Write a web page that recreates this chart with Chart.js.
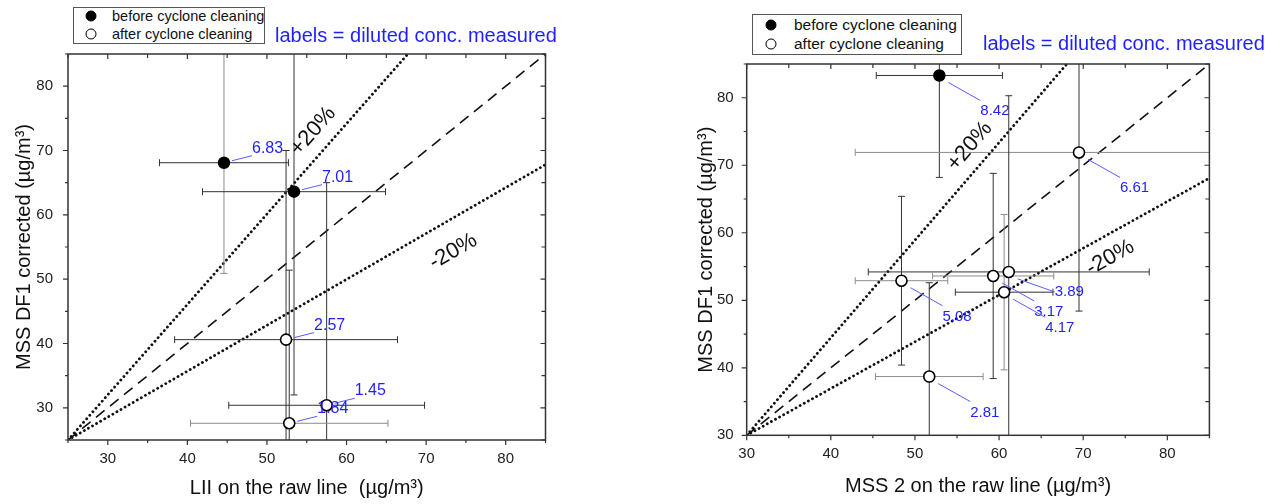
<!DOCTYPE html>
<html>
<head>
<meta charset="utf-8">
<script src="https://cdn.jsdelivr.net/npm/chart.js@4.4.1/dist/chart.umd.min.js"></script>
<style>
  body { margin: 0; background: #fff; font-family: Arial, "Liberation Sans", sans-serif; }
  #wrap { position: relative; width: 1268px; height: 504px; overflow: hidden; }
  #wrap canvas { position: absolute; top: 0; }
  .legend { position: absolute; border: 1px solid #555; background: #fff; box-sizing: border-box; }
  .row { position: absolute; white-space: nowrap; color: #111; line-height: 1; transform: translateY(-50%); }
  .dot { position: absolute; width: 11px; height: 11px; border-radius: 50%; box-sizing: border-box;
         border: 1.6px solid #000; transform: translate(-50%, -50%); }
  .note { position: absolute; color: #1f1fff; font-size: 20px; white-space: nowrap; line-height: 1;
          transform: translateY(-50%); }
</style>
</head>
<body>
<div id="wrap">
  <canvas id="liiChart" width="634" height="504" style="left:0"></canvas>
  <canvas id="mssChart" width="634" height="504" style="left:634px"></canvas>

  <div class="legend" style="left:73px;top:7px;width:192px;height:37px"></div>
  <div class="dot" style="left:91px;top:16px;background:#000"></div>
  <div class="row" style="left:112px;top:16px;font-size:14.5px">before cyclone cleaning</div>
  <div class="dot" style="left:91px;top:34px;background:#fff"></div>
  <div class="row" style="left:112px;top:34px;font-size:14.5px">after cyclone cleaning</div>
  <div class="note" style="left:275px;top:35px">labels = diluted conc. measured</div>

  <div class="legend" style="left:752px;top:14px;width:210px;height:41px"></div>
  <div class="dot" style="left:771px;top:25px;background:#000"></div>
  <div class="row" style="left:794px;top:25px;font-size:15.5px">before cyclone cleaning</div>
  <div class="dot" style="left:771px;top:44px;background:#fff"></div>
  <div class="row" style="left:794px;top:44px;font-size:15.5px">after cyclone cleaning</div>
  <div class="note" style="left:983px;top:43px">labels = diluted conc. measured</div>
</div>

<script>
// ---- left panel: LII vs MSS DF1 ----
const liiBeforeX = [44.6, 53.4];
const liiBeforeY = [68.1, 63.6];
const liiBeforeXErr = [8.1, 11.5];
const liiBeforeYErr = [17.2, 31.6];
const liiBeforeLabels = ["6.83", "7.01"];

const liiAfterX = [52.4, 57.5, 52.8];
const liiAfterY = [40.6, 30.4, 27.6];
const liiAfterXErr = [14.0, 12.3, 12.4];
const liiAfterYErr = [29.4, 34.6, 23.8];
const liiAfterLabels = ["2.57", "1.45", "1.84"];

const liiTicks = [30, 40, 50, 60, 70, 80];
const liiOneX = [25, 85], liiOneY = [25, 85];
const liiPlusX = [25, 67.7], liiPlusY = [25, 85];
const liiMinusX = [25, 85], liiMinusY = [25, 67.8];

// ---- right panel: MSS 2 vs MSS DF1 ----
const mssBeforeX = [52.9];
const mssBeforeY = [83.3];
const mssBeforeXErr = [7.5];
const mssBeforeYErr = [15.1];
const mssBeforeLabels = ["8.42"];

const mssAfterX = [69.5, 48.4, 61.15, 59.3, 60.6, 51.7];
const mssAfterY = [71.9, 52.9, 54.2, 53.6, 51.2, 38.7];
const mssAfterXErr = [26.6, 5.5, 16.7, 7.2, 5.8, 6.4];
const mssAfterYErr = [23.5, 12.5, 26.1, 15.2, 11.5, 13.9];
const mssAfterLabels = ["6.61", "5.08", "3.89", "3.17", "4.17", "2.81"];

const mssTicks = [30, 40, 50, 60, 70, 80];
const mssOneX = [30, 85], mssOneY = [30, 85];
const mssPlusX = [30, 68.05], mssPlusY = [30, 85];
const mssMinusX = [30, 85], mssMinusY = [30, 68.1];

// bar colours (dark / grey), horizontal and vertical
const DK = "#333", GR = "#8c8c8c";

Chart.defaults.font.family = 'Arial, "Liberation Sans", sans-serif';

function pts(xs, ys) {
  return xs.map((x, i) => ({ x: x, y: ys[i] }));
}

function drawErrorBars(chart) {
  const ctx = chart.ctx, a = chart.chartArea;
  const xs = chart.scales.x, ys = chart.scales.y;
  ctx.save();
  ctx.beginPath();
  ctx.rect(a.left, a.top, a.right - a.left, a.bottom - a.top);
  ctx.clip();
  ctx.lineWidth = 1;
  chart.data.datasets.forEach((ds) => {
    if (!ds.series) return;
    const s = ds.series;
    ds.data.forEach((p, i) => {
      const cx = xs.getPixelForValue(p.x), cy = ys.getPixelForValue(p.y);
      const x0 = xs.getPixelForValue(p.x - s.xErr[i]), x1 = xs.getPixelForValue(p.x + s.xErr[i]);
      const y0 = ys.getPixelForValue(p.y - s.yErr[i]), y1 = ys.getPixelForValue(p.y + s.yErr[i]);
      ctx.strokeStyle = s.hCol[i];
      ctx.beginPath();
      ctx.moveTo(x0, cy); ctx.lineTo(x1, cy);
      ctx.moveTo(x0, cy - 3.5); ctx.lineTo(x0, cy + 3.5);
      ctx.moveTo(x1, cy - 3.5); ctx.lineTo(x1, cy + 3.5);
      ctx.stroke();
      ctx.strokeStyle = s.vCol[i];
      ctx.beginPath();
      ctx.moveTo(cx, y0); ctx.lineTo(cx, y1);
      ctx.moveTo(cx - 3.5, y0); ctx.lineTo(cx + 3.5, y0);
      ctx.moveTo(cx - 3.5, y1); ctx.lineTo(cx + 3.5, y1);
      ctx.stroke();
    });
  });
  ctx.restore();
}

function drawLabels(chart, opts) {
  const ctx = chart.ctx;
  ctx.save();
  ctx.font = opts.labelFont + ' Arial, "Liberation Sans", sans-serif';
  ctx.textBaseline = "alphabetic";
  ctx.textAlign = "left";
  chart.data.datasets.forEach((ds, di) => {
    if (!ds.series) return;
    const meta = chart.getDatasetMeta(di);
    ds.series.labels.forEach((txt, i) => {
      const el = meta.data[i];
      const o = (opts.special[txt]) || opts.offset;
      ctx.strokeStyle = "#5a5aff";
      ctx.lineWidth = 1;
      ctx.beginPath();
      ctx.moveTo(el.x + o[2], el.y + o[3]);
      ctx.lineTo(el.x + o[4], el.y + o[5]);
      ctx.stroke();
      ctx.fillStyle = "#1f1fff";
      ctx.fillText(txt, el.x + o[0], el.y + o[1]);
    });
  });
  ctx.restore();
}

function drawTags(chart, tags) {
  const ctx = chart.ctx, xs = chart.scales.x, ys = chart.scales.y;
  ctx.save();
  ctx.font = '22px Arial, "Liberation Sans", sans-serif';
  ctx.fillStyle = "#111";
  ctx.textAlign = "center";
  ctx.textBaseline = "middle";
  tags.forEach((t) => {
    const ang = Math.atan2(
      ys.getPixelForValue(t.lineY[1]) - ys.getPixelForValue(t.lineY[0]),
      xs.getPixelForValue(t.lineX[1]) - xs.getPixelForValue(t.lineX[0])
    );
    ctx.save();
    ctx.translate(xs.getPixelForValue(t.x), ys.getPixelForValue(t.y));
    ctx.rotate(ang);
    ctx.fillText(t.text, 0, 0);
    ctx.restore();
  });
  ctx.restore();
}

function drawFrame(chart) {
  const ctx = chart.ctx, a = chart.chartArea;
  const xs = chart.scales.x, ys = chart.scales.y;
  ctx.save();
  ctx.strokeStyle = "#333";
  ctx.lineWidth = 1.5;
  ctx.strokeRect(a.left, a.top, a.right - a.left, a.bottom - a.top);
  ctx.lineWidth = 1.2;
  ctx.beginPath();
  for (let v = xs.min; v <= xs.max + 0.01; v += 5) {
    const p = xs.getPixelForValue(v), big = v % 10 === 0;
    ctx.moveTo(p, a.bottom); ctx.lineTo(p, a.bottom + (big ? 5 : 3));
    ctx.moveTo(p, a.top); ctx.lineTo(p, a.top + (big ? 5 : 4));
  }
  for (let v = ys.min; v <= ys.max + 0.01; v += 5) {
    const p = ys.getPixelForValue(v), big = v % 10 === 0;
    ctx.moveTo(a.left, p); ctx.lineTo(a.left - (big ? 5 : 3), p);
    ctx.moveTo(a.right, p); ctx.lineTo(a.right - (big ? 5 : 4), p);
  }
  ctx.stroke();
  ctx.restore();
}

const panelPlugin = {
  id: "panel",
  beforeDatasetsDraw(chart) { chart.$barsDone = false; },
  beforeDatasetDraw(chart, args) {
    if (chart.$barsDone || !chart.data.datasets[args.index].series) return;
    drawErrorBars(chart);
    chart.$barsDone = true;
  },
  afterDatasetsDraw(chart, args, opts) {
    drawTags(chart, opts.tags);
    drawLabels(chart, opts);
  },
  afterDraw(chart) { drawFrame(chart); }
};

function refLine(xs, ys, dotted) {
  return {
    type: "line",
    data: pts(xs, ys),
    borderColor: "#111",
    borderWidth: dotted ? 2.8 : 1.6,
    borderDash: dotted ? [0.1, 4.6] : [11, 7],
    borderCapStyle: dotted ? "round" : "butt",
    pointRadius: 0,
    fill: false,
    order: 2
  };
}

function buildChart(id, o) {
  return new Chart(document.getElementById(id), {
    type: "scatter",
    data: {
      datasets: [
        {
          label: "before cyclone cleaning",
          data: pts(o.bX, o.bY),
          series: o.bSeries,
          pointRadius: 5.5,
          pointBackgroundColor: "#000",
          pointBorderColor: "#000",
          pointBorderWidth: 1.5,
          order: 1
        },
        {
          label: "after cyclone cleaning",
          data: pts(o.aX, o.aY),
          series: o.aSeries,
          pointRadius: 5.5,
          pointBackgroundColor: "#fff",
          pointBorderColor: "#000",
          pointBorderWidth: 1.6,
          order: 1
        },
        refLine(o.one[0], o.one[1], false),
        refLine(o.plus[0], o.plus[1], true),
        refLine(o.minus[0], o.minus[1], true)
      ]
    },
    options: {
      responsive: false,
      animation: false,
      events: [],
      layout: { padding: { left: 0, top: o.top, right: o.right, bottom: 0 } },
      plugins: {
        legend: { display: false },
        tooltip: { enabled: false },
        panel: { tags: o.tags, labelFont: o.labelFont, offset: o.offset, special: o.special }
      },
      scales: {
        x: {
          type: "linear",
          min: o.xMin, max: 85,
          afterBuildTicks: (s) => { s.ticks = o.ticks.map((v) => ({ value: v })); },
          afterFit: (s) => { s.height = o.xAxisH; },
          grid: { display: false, drawTicks: false, tickLength: 0 },
          border: { display: false },
          ticks: { font: { size: 15 }, color: "#222", padding: 10 },
          title: { display: true, text: o.xTitle, font: { size: 20 }, color: "#111",
                   padding: { top: 0, bottom: o.xTitlePad } }
        },
        y: {
          type: "linear",
          min: o.yMin, max: 85,
          afterBuildTicks: (s) => { s.ticks = o.ticks.map((v) => ({ value: v })); },
          afterFit: (s) => { s.width = o.yAxisW; },
          grid: { display: false, drawTicks: false, tickLength: 0 },
          border: { display: false },
          ticks: { font: { size: 15 }, color: "#222", padding: o.yTickPad },
          title: { display: true, text: "MSS DF1 corrected (\u00b5g/m\u00b3)", font: { size: 20 }, color: "#111",
                   padding: { top: o.yTitlePad, bottom: 0 } }
        }
      }
    },
    plugins: [panelPlugin]
  });
}

buildChart("liiChart", {
  bX: liiBeforeX, bY: liiBeforeY,
  bSeries: { xErr: liiBeforeXErr, yErr: liiBeforeYErr, labels: liiBeforeLabels, hCol: [DK, DK], vCol: [GR, DK] },
  aX: liiAfterX, aY: liiAfterY,
  aSeries: { xErr: liiAfterXErr, yErr: liiAfterYErr, labels: liiAfterLabels, hCol: [DK, DK, GR], vCol: [DK, DK, DK] },
  one: [liiOneX, liiOneY], plus: [liiPlusX, liiPlusY], minus: [liiMinusX, liiMinusY],
  ticks: liiTicks, xMin: 25, yMin: 25,
  top: 54, right: 88.5, xAxisH: 64, yAxisW: 68,
  xTitle: "LII on the raw line  (\u00b5g/m\u00b3)", xTitlePad: 4, yTitlePad: 12, yTickPad: 15,
  labelFont: "16px",
  offset: [28, -10, 8, -2, 28, -7],
  special: {},
  tags: [
    { text: "+20%", x: 55.8, y: 73.0, lineX: liiPlusX, lineY: liiPlusY },
    { text: "-20%", x: 73.4, y: 54.3, lineX: liiMinusX, lineY: liiMinusY }
  ]
});

buildChart("mssChart", {
  bX: mssBeforeX, bY: mssBeforeY,
  bSeries: { xErr: mssBeforeXErr, yErr: mssBeforeYErr, labels: mssBeforeLabels, hCol: [DK], vCol: [DK] },
  aX: mssAfterX, aY: mssAfterY,
  aSeries: { xErr: mssAfterXErr, yErr: mssAfterYErr, labels: mssAfterLabels,
             hCol: [GR, GR, DK, GR, DK, GR], vCol: [DK, DK, DK, DK, GR, DK] },
  one: [mssOneX, mssOneY], plus: [mssPlusX, mssPlusY], minus: [mssMinusX, mssMinusY],
  ticks: mssTicks, xMin: 30, yMin: 30,
  top: 64, right: 58.6, xAxisH: 68.7, yAxisW: 112.7,
  xTitle: "MSS 2 on the raw line (\u00b5g/m\u00b3)", xTitlePad: 6, yTitlePad: 60, yTickPad: 13,
  labelFont: "15px",
  offset: [41, 40, 9, 7, 41, 25],
  special: { "3.89": [46, 24, 9, 7, 46, 20] },
  tags: [
    { text: "+20%", x: 56.5, y: 72.8, lineX: mssPlusX, lineY: mssPlusY },
    { text: "-20%", x: 73.2, y: 56.3, lineX: mssMinusX, lineY: mssMinusY }
  ]
});
</script>
</body>
</html>
